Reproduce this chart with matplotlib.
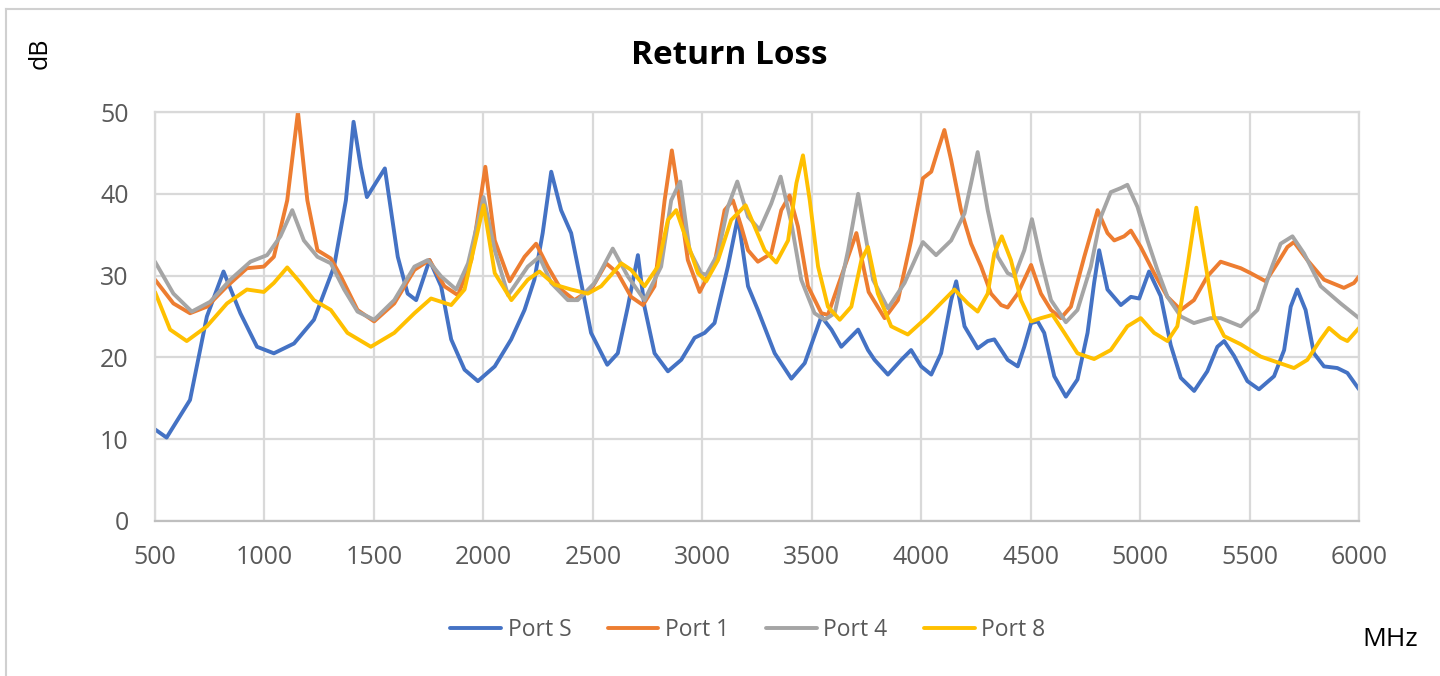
import matplotlib
matplotlib.use('Agg')
import matplotlib.pyplot as plt
from matplotlib.lines import Line2D
from matplotlib.ticker import MultipleLocator

plt.rcParams.update({
    "font.family": ["Open Sans", "DejaVu Sans"],
})

# Data (MHz, dB)
port_s_x = [500, 553, 660, 737, 813, 890, 966, 1043, 1135, 1226, 1318, 1372, 1407, 1440, 1468, 1550,
            1609, 1654, 1693, 1754, 1807, 1853, 1914, 1975, 2052, 2127, 2188, 2233, 2271, 2310, 2355,
            2401, 2447, 2492, 2566, 2614, 2660, 2706, 2736, 2782, 2843, 2904, 2965, 3011, 3056, 3117,
            3163, 3209, 3254, 3331, 3407, 3468, 3544, 3590, 3635, 3712, 3757, 3787, 3848, 3909, 3954,
            4000, 4046, 4091, 4137, 4160, 4198, 4258, 4304, 4334, 4395, 4441, 4471, 4502, 4532, 4562,
            4608, 4661, 4714, 4760, 4790, 4813, 4851, 4912, 4958, 4996, 5041, 5094, 5140, 5186, 5247,
            5307, 5353, 5384, 5429, 5490, 5543, 5612, 5658, 5688, 5718, 5756, 5794, 5840, 5901, 5947,
            6000]
port_s_y = [11.2, 10.2, 14.8, 25.0, 30.5, 25.4, 21.3, 20.5, 21.7, 24.6, 31.1, 39.2, 48.8, 43.3, 39.6, 43.1,
            32.3, 27.8, 27.0, 31.9, 28.7, 22.2, 18.5, 17.1, 18.9, 22.2, 25.8, 29.5, 35.2, 42.7, 38.0,
            35.2, 29.1, 23.0, 19.1, 20.5, 26.2, 32.5, 26.2, 20.5, 18.3, 19.7, 22.4, 23.0, 24.2, 31.1,
            37.2, 28.7, 25.8, 20.5, 17.4, 19.3, 25.0, 23.4, 21.3, 23.4, 20.9, 19.7, 17.9, 19.7, 20.9,
            18.9, 17.9, 20.5, 27.0, 29.3, 23.8, 21.1, 22.0, 22.2, 19.7, 18.9, 21.3, 24.2, 24.4, 23.0,
            17.7, 15.2, 17.3, 23.0, 29.1, 33.1, 28.3, 26.4, 27.4, 27.2, 30.5, 27.5, 21.5, 17.5, 15.9,
            18.3, 21.3, 22.0, 20.2, 17.1, 16.1, 17.7, 20.9, 26.2, 28.3, 25.8, 20.5, 18.9, 18.7, 18.1,
            16.1]

port_1_x = [500, 584, 660, 737, 829, 920, 997, 1043, 1104, 1153, 1196, 1242, 1303, 1349, 1425, 1501,
            1593, 1685, 1754, 1822, 1884, 1945, 2009, 2052, 2120, 2188, 2241, 2294, 2355, 2416, 2492,
            2561, 2614, 2675, 2729, 2782, 2828, 2861, 2896, 2934, 2988, 3056, 3102, 3140, 3178, 3209,
            3254, 3315, 3361, 3399, 3437, 3483, 3544, 3574, 3635, 3704, 3760, 3833, 3894, 3954, 4008,
            4046, 4076, 4106, 4137, 4182, 4228, 4274, 4319, 4365, 4395, 4441, 4502, 4547, 4593, 4638,
            4684, 4745, 4806, 4851, 4882, 4927, 4958, 5003, 5064, 5125, 5186, 5246, 5307, 5368, 5460,
            5505, 5574, 5627, 5673, 5703, 5764, 5840, 5931, 5977, 6000]
port_1_y = [29.5, 26.6, 25.4, 26.2, 28.7, 30.9, 31.1, 32.3, 39.2, 50.0, 39.2, 33.1, 32.1, 29.9, 25.8, 24.4,
            26.6, 30.7, 31.9, 28.7, 27.6, 31.9, 43.3, 34.3, 29.3, 32.3, 33.9, 31.1, 28.3, 27.0, 28.3,
            31.5, 30.3, 27.4, 26.4, 28.7, 39.2, 45.3, 39.2, 31.9, 28.0, 31.5, 38.0, 39.2, 36.0, 33.1,
            31.7, 32.7, 38.0, 39.8, 36.0, 28.7, 25.4, 25.2, 29.9, 35.2, 28.0, 24.8, 27.0, 34.3, 41.9,
            42.7, 45.3, 47.8, 44.1, 38.0, 33.9, 31.1, 27.8, 26.4, 26.1, 27.8, 31.3, 27.8, 25.8, 24.8,
            26.2, 32.3, 38.0, 35.2, 34.3, 34.8, 35.5, 33.5, 30.3, 27.4, 25.8, 27.0, 29.9, 31.7, 30.9,
            30.3, 29.3, 31.5, 33.5, 34.1, 31.9, 29.5, 28.5, 29.1, 29.9]

port_4_x = [500, 584, 668, 752, 844, 936, 1012, 1073, 1127, 1180, 1242, 1303, 1364, 1425, 1501, 1593,
            1685, 1746, 1807, 1876, 1930, 2001, 2052, 2113, 2203, 2256, 2310, 2386, 2431, 2508, 2591,
            2660, 2736, 2812, 2858, 2899, 2942, 2995, 3018, 3072, 3117, 3160, 3209, 3262, 3315, 3358,
            3407, 3452, 3513, 3559, 3605, 3666, 3712, 3757, 3780, 3848, 3924, 4008, 4068, 4137, 4198,
            4228, 4258, 4304, 4350, 4395, 4426, 4471, 4506, 4547, 4593, 4661, 4714, 4775, 4821, 4866,
            4912, 4942, 4988, 5034, 5079, 5125, 5186, 5246, 5322, 5368, 5414, 5460, 5536, 5597, 5642,
            5696, 5749, 5825, 5916, 6000]
port_4_y = [31.7, 27.8, 25.6, 26.8, 29.5, 31.7, 32.5, 34.8, 38.0, 34.3, 32.3, 31.5, 28.3, 25.6, 24.6, 27.0,
            31.1, 31.9, 29.9, 28.3, 31.5, 39.6, 33.1, 27.6, 31.1, 32.3, 29.1, 27.0, 27.0, 29.1, 33.3,
            29.9, 27.0, 31.1, 39.2, 41.5, 33.1, 30.3, 30.1, 32.7, 38.4, 41.5, 37.2, 35.6, 38.8, 42.1,
            36.4, 29.5, 25.4, 24.6, 25.4, 33.1, 40.0, 33.1, 29.5, 26.0, 29.1, 34.1, 32.5, 34.3, 37.6,
            41.3, 45.1, 38.0, 32.3, 30.3, 29.9, 33.1, 36.9, 31.9, 27.0, 24.3, 25.8, 31.1, 37.2, 40.2,
            40.7, 41.1, 38.4, 34.3, 30.7, 27.4, 25.0, 24.2, 24.8, 24.8, 24.3, 23.8, 25.8, 30.7, 33.9,
            34.8, 32.7, 28.7, 26.6, 24.8]

port_8_x = [500, 569, 645, 737, 829, 920, 997, 1043, 1104, 1165, 1226, 1303, 1379, 1486, 1593, 1685,
            1761, 1853, 1914, 2001, 2052, 2128, 2203, 2256, 2325, 2401, 2477, 2538, 2630, 2675, 2736,
            2797, 2843, 2881, 2934, 2980, 3018, 3072, 3132, 3198, 3239, 3285, 3338, 3392, 3430, 3460,
            3491, 3529, 3574, 3628, 3681, 3727, 3757, 3802, 3863, 3939, 4030, 4152, 4213, 4258, 4304,
            4334, 4368, 4410, 4456, 4502, 4547, 4600, 4654, 4714, 4790, 4866, 4942, 5003, 5064, 5125,
            5170, 5216, 5257, 5292, 5338, 5384, 5460, 5551, 5703, 5764, 5825, 5863, 5916, 5947, 6000]
port_8_y = [28.0, 23.4, 22.0, 23.8, 26.6, 28.3, 28.0, 29.1, 31.0, 29.1, 27.0, 25.8, 23.0, 21.3, 23.0, 25.4,
            27.2, 26.4, 28.3, 38.6, 30.3, 27.0, 29.5, 30.5, 28.9, 28.3, 27.8, 28.7, 31.5, 30.7, 28.7,
            31.1, 36.8, 38.0, 33.9, 30.3, 29.3, 31.9, 36.8, 38.6, 36.0, 33.1, 31.6, 34.3, 41.3, 44.7,
            39.2, 31.1, 26.2, 24.6, 26.2, 31.9, 33.5, 27.8, 23.8, 22.8, 25.0, 28.3, 26.6, 25.6, 27.8,
            32.7, 34.8, 31.9, 27.0, 24.4, 24.8, 25.2, 23.0, 20.5, 19.8, 20.9, 23.8, 24.8, 23.0, 22.0,
            23.8, 31.1, 38.3, 32.5, 25.0, 22.6, 21.6, 20.1, 18.7, 19.7, 22.2, 23.6, 22.4, 22.0, 23.6]

series = [
    ("Port S", port_s_x, port_s_y, "#4472C4"),
    ("Port 1", port_1_x, port_1_y, "#ED7D31"),
    ("Port 4", port_4_x, port_4_y, "#A5A5A5"),
    ("Port 8", port_8_x, port_8_y, "#FFC000"),
]

fig = plt.figure(figsize=(14.4, 6.76), dpi=100)
ax = fig.add_axes([155 / 1440, 1 - 521 / 676, 1204 / 1440, 409 / 676])

for name, xs, ys, color in series:
    ax.plot(xs, ys, color=color, lw=2.8, label=name,
            solid_joinstyle='round', solid_capstyle='round')

ax.set_xlim(500, 6000)
ax.set_ylim(0, 50)
ax.xaxis.set_major_locator(MultipleLocator(500))
ax.yaxis.set_major_locator(MultipleLocator(10))
ax.grid(True, color='#D9D9D9', lw=1.6)
ax.set_axisbelow(True)
for side in ['top', 'left', 'right']:
    ax.spines[side].set_color('#D9D9D9')
    ax.spines[side].set_linewidth(1.6)
ax.spines['bottom'].set_color('#BFBFBF')
ax.spines['bottom'].set_linewidth(1.6)
ax.tick_params(length=0, labelsize=18, colors='#595959')
ax.tick_params(axis='y', pad=19)
ax.tick_params(axis='x', pad=17)

fig.text(729 / 1440, 1 - 55 / 676, "Return Loss", ha='center', va='center',
         fontsize=24, fontweight='bold', color='black')
fig.text(40 / 1440, 1 - 53 / 676, "dB", ha='center', va='center', rotation=90,
         fontsize=18, color='black')
fig.text(1390 / 1440, 1 - 639 / 676, "MHz", ha='center', va='center',
         fontsize=19, color='black')

fig.legend(loc='center', bbox_to_anchor=(748 / 1440, 1 - 630 / 676), ncol=4, frameon=False,
           fontsize=16.5, handlelength=2.2, handletextpad=0.3, columnspacing=1.6,
           labelcolor='#595959')

# light frame of the chart area
fig.add_artist(Line2D([6 / 1440, 1], [1 - 9 / 676, 1 - 9 / 676], color='#D0D0D0', lw=1.5))
fig.add_artist(Line2D([6 / 1440, 6 / 1440], [0, 1 - 9 / 676], color='#D0D0D0', lw=1.5))

fig.savefig('out.png', dpi=100)
